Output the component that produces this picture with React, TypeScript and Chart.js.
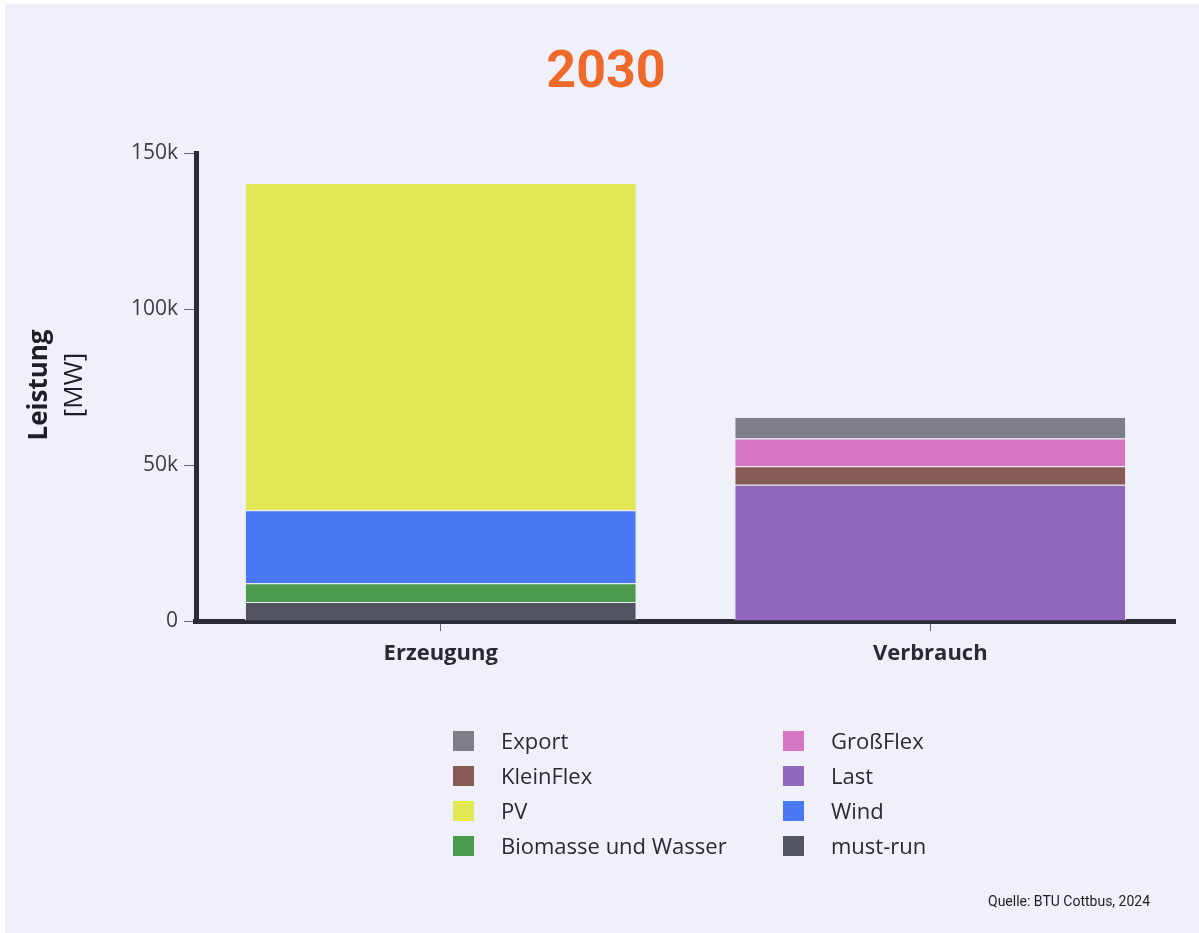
import React, { useEffect, useRef } from "react";
import { Chart, registerables } from "chart.js";

Chart.register(...registerables);

const categories = ["Erzeugung", "Verbrauch"];

const seriesNames = ["must-run", "Biomasse und Wasser", "Wind", "PV", "Last", "KleinFlex", "GroßFlex", "Export"];
const mustRun = [6100, null];
const biomasse = [6000, null];
const wind = [23400, null];
const pv = [104900, null];
const last = [null, 43700];
const kleinFlex = [null, 5900];
const grossFlex = [null, 8900];
const exportVals = [null, 6900];

const seriesColors = ["#52555f", "#4c9a4d", "#4a77f2", "#e1e854", "#9066bd", "#885a55", "#d675c2", "#7e7e88"];

const legendColumns = [
  ["Export", "KleinFlex", "PV", "Biomasse und Wasser"],
  ["GroßFlex", "Last", "Wind", "must-run"],
];

const yTicks = [0, 50000, 100000, 150000];

const titleText = "2030";
const yTitleLines = ["Leistung", "[MW]"];
const sourceText = "Quelle: BTU Cottbus, 2024";

const W = 1199;
const H = 933;

const bgPlugin = {
  id: "bg",
  beforeDraw(chart: any) {
    const ctx = chart.ctx;
    ctx.save();
    ctx.fillStyle = "#ffffff";
    ctx.fillRect(0, 0, W, H);
    ctx.fillStyle = "#eff0f9";
    ctx.fillRect(5, 4, W - 5, H - 4);
    ctx.restore();
  },
};

const decoPlugin = {
  id: "deco",
  afterDraw(chart: any) {
    const ctx = chart.ctx;
    const area = chart.chartArea;
    ctx.save();
    // title
    ctx.fillStyle = "#ef6a2a";
    ctx.font = "bold 52px Roboto";
    ctx.textAlign = "center";
    ctx.textBaseline = "middle";
    ctx.fillText(titleText, 606, 74);
    // y title
    const cy = 385;
    ctx.save();
    ctx.translate(40, cy);
    ctx.rotate(-Math.PI / 2);
    ctx.fillStyle = "#1e1e24";
    ctx.font = "bold 26px 'Open Sans'";
    ctx.fillText(yTitleLines[0], 0, 0);
    ctx.restore();
    ctx.save();
    ctx.translate(75, cy);
    ctx.rotate(-Math.PI / 2);
    ctx.fillStyle = "#1e1e24";
    ctx.font = "26px 'Open Sans'";
    ctx.fillText(yTitleLines[1], 0, 0);
    ctx.restore();
    // corner of axes
    ctx.fillStyle = "#2b2b36";
    ctx.fillRect(area.left - 3, area.bottom - 2, 6, 5);
    // legend
    const colX = [453, 783];
    const rowY = [741, 776, 811, 846];
    ctx.font = "22px 'Open Sans'";
    ctx.textAlign = "left";
    ctx.textBaseline = "middle";
    legendColumns.forEach((col, ci) => {
      col.forEach((name, ri) => {
        const idx = seriesNames.indexOf(name);
        const ds = chart.data.datasets[idx];
        ctx.fillStyle = ds.backgroundColor;
        ctx.fillRect(colX[ci], rowY[ri] - 10, 21, 20);
        ctx.fillStyle = "#2a2a30";
        ctx.fillText(name, colX[ci] + 48, rowY[ri] + 2);
      });
    });
    // source
    ctx.font = "14px Roboto";
    ctx.fillStyle = "#222222";
    ctx.fillText(sourceText, 988, 902);
    ctx.restore();
  },
};

export default function App() {
  const ref = useRef<HTMLCanvasElement | null>(null);
  useEffect(() => {
    if (!ref.current) return;
    const allData = [mustRun, biomasse, wind, pv, last, kleinFlex, grossFlex, exportVals];
    const chart = new Chart(ref.current, {
      type: "bar",
      data: {
        labels: categories,
        datasets: seriesNames.map((name, i) => ({
          label: name,
          data: allData[i],
          backgroundColor: seriesColors[i],
          borderColor: "rgba(235,238,250,0.9)",
          borderWidth: 1,
          barPercentage: 0.8,
          categoryPercentage: 1,
        })),
      },
      options: {
        responsive: false,
        animation: false,
        layout: { padding: { left: 96, right: 24, top: 153, bottom: 262 } },
        plugins: {
          legend: { display: false },
          title: { display: false },
          tooltip: { enabled: false },
        },
        scales: {
          x: {
            stacked: true,
            afterFit: (s: any) => { s.height = 50; },
            grid: {
              display: true,
              drawOnChartArea: false,
              offset: false,
              tickLength: 10,
              color: "#666670",
              lineWidth: 1,
            },
            border: { display: true, color: "#2b2b36", width: 5 },
            ticks: {
              padding: 10,
              color: "#2a2a30",
              font: { family: "'Open Sans'", size: 22, weight: "bold" },
            },
          },
          y: {
            stacked: true,
            min: 0,
            max: 150000,
            afterFit: (s: any) => { s.width = 100; },
            afterBuildTicks: (s: any) => { s.ticks = yTicks.map((v) => ({ value: v })); },
            grid: {
              display: true,
              drawOnChartArea: false,
              tickLength: 12,
              color: "#666670",
              lineWidth: 1,
            },
            border: { display: true, color: "#2b2b36", width: 5 },
            ticks: {
              padding: 6,
              color: "#3a3d48",
              font: { family: "'Open Sans'", size: 21 },
              callback: (v: any) => (v === 0 ? "0" : v / 1000 + "k"),
            },
          },
        },
      },
      plugins: [bgPlugin, decoPlugin],
    });
    return () => chart.destroy();
  }, []);
  return (
    <div style={{ position: "absolute", left: 0, top: 0, width: W, height: H }}>
      <canvas ref={ref} width={W} height={H} style={{ display: "block", width: W, height: H }} />
    </div>
  );
}
